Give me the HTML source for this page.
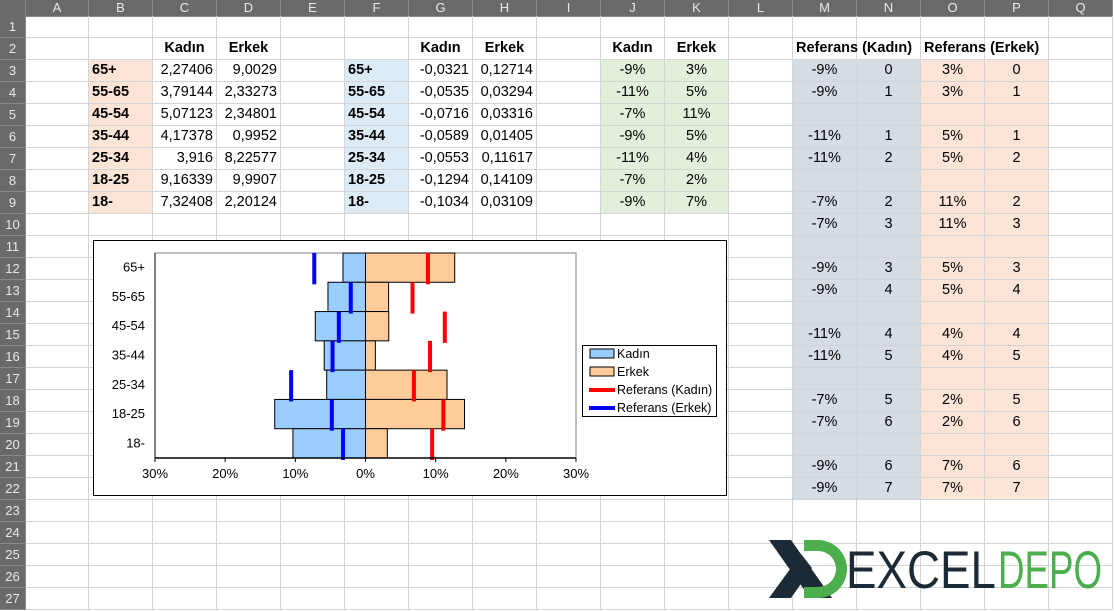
<!DOCTYPE html>
<html><head><meta charset="utf-8">
<style>
body{margin:0;width:1114px;height:611px;overflow:hidden;background:#fff;font-family:"Liberation Sans",Arial,sans-serif;position:relative}
.c{position:absolute;box-sizing:border-box;border-right:1px solid #d4d4d4;border-bottom:1px solid #d4d4d4;font-size:14.5px;line-height:21px;white-space:nowrap;overflow:visible;color:#000}
.h{position:absolute;box-sizing:border-box;background:#6a6a6a;color:#e8e8e8;font-size:13px;text-align:center;border-right:1px solid #888;border-bottom:1px solid #888}
</style></head><body>
<div id="grid"></div>
<svg id="chart" style="position:absolute;left:0;top:0" width="1114" height="611"></svg>
<svg style="position:absolute;left:760px;top:530px" width="350" height="75">
  <polygon points="9,10 31,10 72,68 50,68" fill="#1b2a35"/>
  <polygon points="9,68 31,68 52,38 41,24" fill="#1b2a35"/>
  <path d="M44,10 L58,10 A29,29 0 0 1 58,68 L44,68 L44,57 L58,57 A18,18 0 0 0 58,21 L44,21 Z" fill="#4cae4c"/>
  <text x="86" y="58" font-family="Liberation Sans, sans-serif" font-size="53" fill="#1b2a35" textLength="150" lengthAdjust="spacingAndGlyphs">EXCEL</text>
  <text x="238" y="58" font-family="Liberation Sans, sans-serif" font-size="53" fill="#4cae4c" textLength="104" lengthAdjust="spacingAndGlyphs">DEPO</text>
</svg>
<script>
const categories=["65+","55-65","45-54","35-44","25-34","18-25","18-"];
const kadin=[-0.0321,-0.0535,-0.0716,-0.0589,-0.0553,-0.1294,-0.1034];
const erkek=[0.12714,0.03294,0.03316,0.01405,0.11617,0.14109,0.03109];
const refKadin=[0.089,0.067,0.113,0.092,0.069,0.111,0.095];
const refErkek=[-0.073,-0.021,-0.038,-0.047,-0.106,-0.048,-0.032];
const tickVals=[-0.3,-0.2,-0.1,0,0.1,0.2,0.3];
const tickLabels=["30%","20%","10%","0%","10%","20%","30%"];
const rawC=["2,27406","3,79144","5,07123","4,17378","3,916","9,16339","7,32408"];
const rawD=["9,0029","2,33273","2,34801","0,9952","8,22577","9,9907","2,20124"];
const pctJ=["-9%","-11%","-7%","-9%","-11%","-7%","-9%"];
const pctK=["3%","5%","11%","5%","4%","2%","7%"];
const refM=["-9%","-9%","","-11%","-11%","","-7%","-7%","","-9%","-9%","","-11%","-11%","","-7%","-7%","","-9%","-9%"];
const refN=["0","1","","1","2","","2","3","","3","4","","4","5","","5","6","","6","7"];
const refO=["3%","3%","","5%","5%","","11%","11%","","5%","5%","","4%","4%","","2%","2%","","7%","7%"];
const refP=["0","1","","1","2","","2","3","","3","4","","4","5","","5","6","","6","7"];

const grid=document.getElementById('grid');
const colX=[26,89,153,217,281,345,409,473,537,601,665,729,793,857,921,985,1049,1113];
const letters="ABCDEFGHIJKLMNOPQ";
const rowY=r=>16+(r-1)*22;
function cell(col,row,txt,opt){
  opt=opt||{};
  const d=document.createElement('div');
  d.className='c';
  
  
  d.style.left=colX[col]+'px';d.style.top=rowY(row)+'px';
  d.style.width=(colX[col+1]-colX[col])+'px';d.style.height='22px';
  if(opt.bg)d.style.background=opt.bg;
  d.style.textAlign=opt.align||'right';
  d.style.padding='0 3px';
  if(opt.bold)d.style.fontWeight='bold';
  d.textContent=txt||'';
  grid.appendChild(d);
}
const corner=document.createElement('div');corner.className='h';


corner.style.cssText='left:0;top:0;width:26px;height:17px';grid.appendChild(corner);
for(let i=0;i<17;i++){const h=document.createElement('div');h.className='h';


h.style.left=colX[i]+'px';h.style.top='0';h.style.width=(colX[i+1]-colX[i])+'px';h.style.height='17px';h.style.lineHeight='16px';h.textContent=letters[i];grid.appendChild(h);}
for(let r=1;r<=27;r++){const h=document.createElement('div');h.className='h';


h.style.left='0';h.style.top=rowY(r)+'px';h.style.width='26px';h.style.height='22px';h.style.lineHeight='22px';h.textContent=r;grid.appendChild(h);}
const fills={1:'#fce4d6',5:'#ddebf7',9:'#e2efda',10:'#e2efda',12:'#d6dce4',13:'#d6dce4',14:'#fce4d6',15:'#fce4d6'};
for(let r=1;r<=27;r++)for(let c=0;c<17;c++){
  let txt='',o={};
  if((c===1||c===5)&&r>=3&&r<=9){txt=categories[r-3];o.align='left';o.bold=true;o.bg=fills[c];}
  if((c===9||c===10)&&r>=3&&r<=9){o.bg=fills[c];o.align='center';txt=(c===9?pctJ:pctK)[r-3];}
  if(c>=12&&c<=15&&r>=3&&r<=22){o.bg=fills[c];o.align='center';txt=[refM,refN,refO,refP][c-12][r-3];}
  if(c===2&&r>=3&&r<=9)txt=rawC[r-3];
  if(c===3&&r>=3&&r<=9)txt=rawD[r-3];
  if(c===6&&r>=3&&r<=9)txt=kadin[r-3].toString().replace('.',',');
  if(c===7&&r>=3&&r<=9)txt=erkek[r-3].toString().replace('.',',');
  if(r===2&&(c===2||c===6||c===9)){txt='Kadın';o.bold=true;o.align='center';}
  if(r===2&&(c===3||c===7||c===10)){txt='Erkek';o.bold=true;o.align='center';}
  if(r===2&&c===12){txt='Referans (Kadın)';o.bold=true;o.align='left';}
  if(r===2&&c===14){txt='Referans (Erkek)';o.bold=true;o.align='left';}
  cell(c,r,txt,o);
}
const NS='http://www.w3.org/2000/svg';
const svg=document.getElementById('chart');
function el(t,a){const e=document.createElementNS(NS,t);for(const k in a)e.setAttribute(k,a[k]);svg.appendChild(e);return e;}
const L=155,R=576,T=253,B=458;
const x=v=>L+(v+0.3)/0.6*(R-L);
const band=(B-T)/categories.length;
const y=i=>T+i*band;
const frame=el('rect',{x:93.5,y:240.5,width:633,height:255,fill:'#fff',stroke:'#000','stroke-width':1});


const plot=el('rect',{x:L,y:T,width:R-L,height:B-T,fill:'#fff',stroke:'#808080','stroke-width':1});


categories.forEach((c,i)=>{
  const bk=el('rect',{x:x(kadin[i]),y:y(i),width:x(0)-x(kadin[i]),height:band,fill:'#99ccff',stroke:'#000','stroke-width':1});
  
  
  const be=el('rect',{x:x(0),y:y(i),width:x(erkek[i])-x(0),height:band,fill:'#ffcc99',stroke:'#000','stroke-width':1});
  
  
  const lab=el('text',{x:145,y:y(i)+band/2+4,'text-anchor':'end','font-size':13,'font-family':'Liberation Sans, sans-serif'});
  lab.textContent=c;
  
  
});
categories.forEach((c,i)=>{
  const rk=el('line',{x1:x(refKadin[i]),x2:x(refKadin[i]),y1:y(i),y2:y(i)+band+2,stroke:'#ff0000','stroke-width':4});
  
  
  const re=el('line',{x1:x(refErkek[i]),x2:x(refErkek[i]),y1:y(i),y2:y(i)+band+2,stroke:'#0000ff','stroke-width':4});
  
  
});
const ax=el('line',{x1:L,x2:R,y1:B,y2:B,stroke:'#000','stroke-width':1.5});


const ay=el('line',{x1:L,x2:L,y1:T,y2:B,stroke:'#000','stroke-width':1});


tickVals.forEach((v,i)=>{
  const tk=el('line',{x1:x(v),x2:x(v),y1:B,y2:B+4,stroke:'#000'});
  
  
  const t=el('text',{x:x(v),y:B+20,'text-anchor':'middle','font-size':13,'font-family':'Liberation Sans, sans-serif'});
  t.textContent=tickLabels[i];
  
  
});
const lg=el('rect',{x:582.5,y:345.5,width:134,height:71,fill:'#fff',stroke:'#000'});


const items=[["Kadın","#99ccff","box"],["Erkek","#ffcc99","box"],["Referans (Kadın)","#ff0000","line"],["Referans (Erkek)","#0000ff","line"]];
items.forEach((it,i)=>{
  const cy=353+i*18;
  let m;
  if(it[2]==='box')m=el('rect',{x:590,y:cy-4,width:24,height:9,fill:it[1],stroke:'#000','stroke-width':1});
  else m=el('line',{x1:589,x2:615,y1:cy+1,y2:cy+1,stroke:it[1],'stroke-width':4});
  
  
  const t=el('text',{x:617,y:cy+5,'font-size':12.5,'font-family':'Liberation Sans, sans-serif'});
  t.textContent=it[0];
  
  
});
</script>
</body></html>
